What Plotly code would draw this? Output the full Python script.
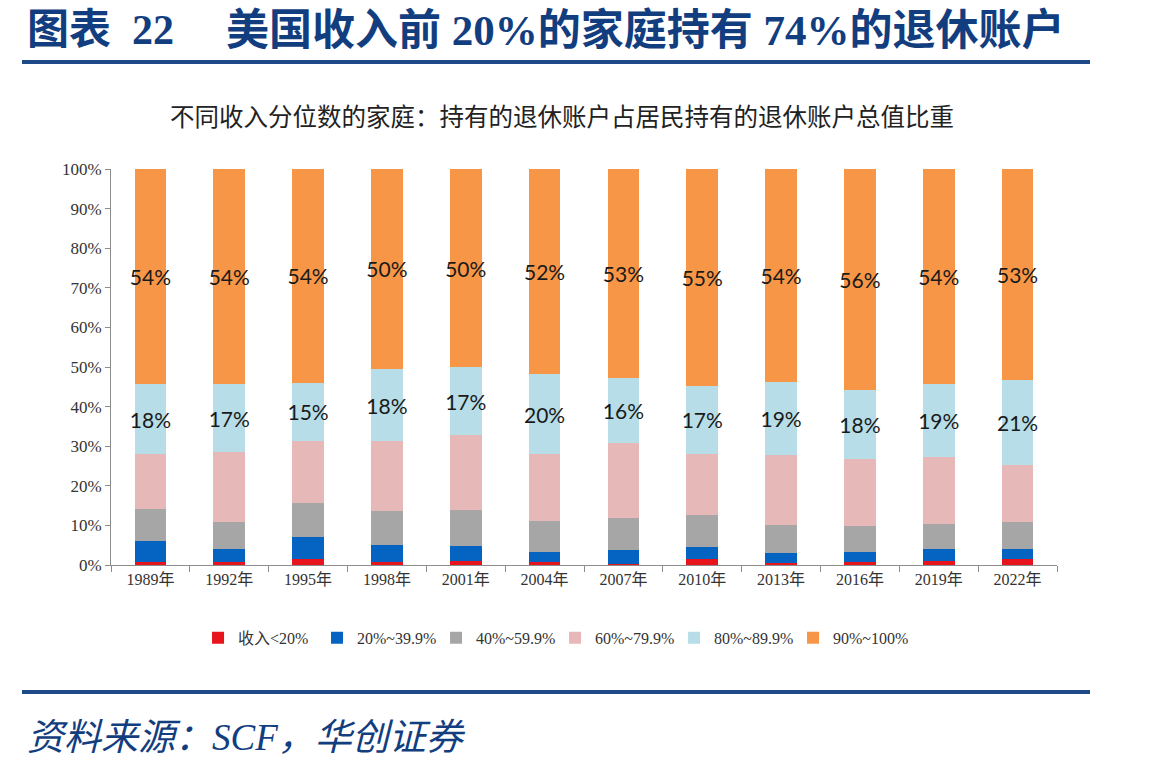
import plotly.graph_objects as go

years = ["1989年", "1992年", "1995年", "1998年", "2001年", "2004年",
         "2007年", "2010年", "2013年", "2016年", "2019年", "2022年"]

series_names = ["收入<20%", "20%~39.9%", "40%~59.9%", "60%~79.9%", "80%~89.9%", "90%~100%"]

inc_lt20 = [0.8, 0.7, 1.6, 0.7, 1.0, 0.7, 0.3, 1.6, 0.5, 0.8, 1.0, 1.4]
inc_20_40 = [5.3, 3.3, 5.5, 4.4, 3.8, 2.7, 3.4, 2.9, 2.5, 2.6, 3.0, 2.6]
inc_40_60 = [8.0, 6.9, 8.6, 8.5, 9.1, 7.6, 8.1, 8.1, 7.1, 6.5, 6.4, 6.8]
inc_60_80 = [13.9, 17.7, 15.6, 17.6, 19.0, 17.0, 19.0, 15.4, 17.6, 16.8, 16.8, 14.5]
inc_80_90 = [17.6, 17.0, 14.7, 18.4, 17.0, 20.2, 16.4, 17.3, 18.6, 17.6, 18.6, 21.3]
inc_90_100 = [54.4, 54.4, 54.0, 50.4, 50.1, 51.8, 52.8, 54.7, 53.7, 55.7, 54.2, 53.4]

colors = ["#E8141C", "#0563C1", "#A6A6A6", "#E6B9B8", "#B7DEE8", "#F79646"]
labelled = [False, False, False, False, True, True]
all_series = [inc_lt20, inc_20_40, inc_40_60, inc_60_80, inc_80_90, inc_90_100]

fig = go.Figure()
for name, vals, col, lab in zip(series_names, all_series, colors, labelled):
    kw = {}
    if lab:
        kw = dict(text=[f"{v:.0f}%" for v in vals], textposition="inside",
                  insidetextanchor="middle", constraintext="none", textangle=0,
                  textfont=dict(family="Lato, Open Sans, sans-serif", size=21, color="#1a1a1a"))
    fig.add_trace(go.Bar(x=years, y=vals, name=name, marker=dict(color=col, line=dict(width=0)),
                         hoverinfo="skip", **kw))

serif = "Liberation Serif, Noto Sans CJK SC, serif"
title_blue = "#123E80"

fig.update_layout(
    width=1149, height=767,
    margin=dict(l=111, r=92, t=169, b=202),
    paper_bgcolor="white", plot_bgcolor="white",
    barmode="stack", bargap=0.6,
    showlegend=True,
    legend=dict(orientation="h", x=0.092, xanchor="left", y=-0.184, yanchor="middle",
                font=dict(family=serif, size=16, color="#333333"),
                entrywidth=74, entrywidthmode="pixels", itemwidth=30,
                traceorder="normal", bgcolor="rgba(0,0,0,0)"),
    xaxis=dict(showline=True, linecolor="#8c8c8c", linewidth=1, ticks="outside",
               tickson="boundaries", ticklen=6, tickcolor="#8c8c8c",
               tickfont=dict(family=serif, size=16, color="#333333"),
               showgrid=False, zeroline=False),
    yaxis=dict(range=[0, 100], dtick=10, ticksuffix="%", showline=True, linecolor="#8c8c8c",
               linewidth=1, ticks="outside", ticklen=5, tickcolor="#8c8c8c",
               tickfont=dict(family=serif, size=17, color="#333333"),
               showgrid=False, zeroline=False),
    font=dict(family=serif),
)

title_y = 1 + (169 - 30) / 396
fig.add_annotation(text="<b>图表\u00a0\u00a022</b>", xref="paper", yref="paper",
                   x=(25 - 111) / 946, y=title_y, xanchor="left", yanchor="middle",
                   showarrow=False, font=dict(family=serif, size=42, color=title_blue))
fig.add_annotation(text="<b>美国收入前 20%的家庭持有 74%的退休账户</b>", xref="paper", yref="paper",
                   x=(224 - 111) / 946, y=title_y, xanchor="left", yanchor="middle",
                   showarrow=False, font=dict(family=serif, size=43, color=title_blue))
fig.add_annotation(text="不同收入分位数的家庭：持有的退休账户占居民持有的退休账户总值比重",
                   xref="paper", yref="paper", x=(562 - 111) / 946, y=1 + (169 - 116) / 396,
                   xanchor="center", yanchor="middle", showarrow=False,
                   font=dict(family="Noto Sans CJK SC, sans-serif", size=24.5, color="#222222"))
fig.add_annotation(text="<i>资料来源：SCF，华创证券</i>", xref="paper", yref="paper",
                   x=(25 - 111) / 946, y=-(737 - 565) / 396, xanchor="left", yanchor="middle",
                   showarrow=False, font=dict(family=serif, size=37, color=title_blue))

for yy in (62, 692):
    yp = 1 + (169 - yy) / 396 if yy < 169 else -(yy - 565) / 396
    fig.add_shape(type="line", xref="paper", yref="paper",
                  x0=(22 - 111) / 946, x1=(1090 - 111) / 946, y0=yp, y1=yp,
                  line=dict(color="#1F4A8A", width=4))

fig.write_html("out.html")
